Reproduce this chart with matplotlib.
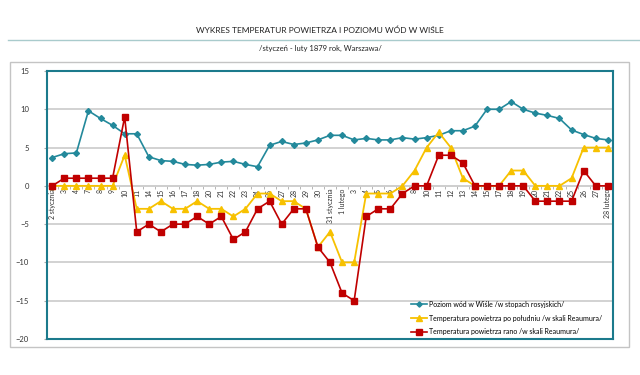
import matplotlib.pyplot as plt
from matplotlib.lines import Line2D
from matplotlib.patches import Rectangle

plt.rcParams['font.family'] = ['Lato', 'DejaVu Sans']

# dni pomiarów (styczeń - luty 1879)
days = ['2 stycznia', '3', '4', '7', '8', '9', '10', '11', '14', '15', '16', '17',
        '18', '20', '21', '22', '23', '24', '25', '27', '28', '29', '30',
        '31 stycznia', '1 lutego', '3', '4', '5', '6', '7', '8', '10', '11', '12',
        '13', '14', '15', '17', '18', '19', '20', '21', '22', '25', '26', '27',
        '28 lutego']

# poziom wód w Wiśle /w stopach rosyjskich/
poziom = [3.7, 4.2, 4.3, 9.8, 8.8, 7.9, 6.8, 6.8, 3.8, 3.3, 3.2, 2.8,
          2.7, 2.8, 3.1, 3.2, 2.8, 2.5, 5.3, 5.8, 5.4, 5.6, 6.0,
          6.6, 6.6, 6.0, 6.2, 6.0, 6.0, 6.3, 6.1, 6.3, 6.6, 7.2,
          7.2, 7.8, 10.0, 10.0, 11.0, 10.0, 9.5, 9.2, 8.8, 7.3, 6.7, 6.2,
          6.0]

# temperatura po południu /w skali Reaumura/
temp_poludnie = [0, 0, 0, 0, 0, 0, 4, -3, -3, -2, -3, -3,
                 -2, -3, -3, -4, -3, -1, -1, -2, -2, -3, -8,
                 -6, -10, -10, -1, -1, -1, 0, 2, 5, 7, 5,
                 1, 0, 0, 0, 2, 2, 0, 0, 0, 1, 5, 5,
                 5]

# temperatura rano /w skali Reaumura/
temp_rano = [0, 1, 1, 1, 1, 1, 9, -6, -5, -6, -5, -5,
             -4, -5, -4, -7, -6, -3, -2, -5, -3, -3, -8,
             -10, -14, -15, -4, -3, -3, -1, 0, 0, 4, 4,
             3, 0, 0, 0, 0, 0, -2, -2, -2, -2, 2, 0,
             0]

labels = ['Poziom wód w Wiśle /w stopach rosyjskich/',
          'Temperatura powietrza po południu /w skali Reaumura/',
          'Temperatura powietrza rano /w skali Reaumura/']

ymin, ymax = -20, 15
teal = '#23899b'
frame_teal = '#1b7a8c'
yellow = '#f7c100'
red = '#c00000'
grid_c = '#cfcfcf'

fig = plt.figure(figsize=(6.4, 3.75), dpi=100)

# tytuł
fig.text(0.5, 1 - 30 / 375, 'WYKRES TEMPERATUR POWIETRZA I POZIOMU WÓD W WIŚLE',
         ha='center', va='center', fontsize=6, color='#222222')
fig.text(0.5, 1 - 48.5 / 375, '/styczeń - luty 1879 rok, Warszawa/',
         ha='center', va='center', fontsize=5.5, color='#222222')
fig.add_artist(Line2D([8 / 640, 1.0], [1 - 39.5 / 375] * 2, transform=fig.transFigure,
                      color='#a9cbcc', lw=1))
fig.add_artist(Rectangle((10 / 640, 1 - 347 / 375), 619 / 640, 285 / 375,
                         transform=fig.transFigure, fill=False, ec='#c4c4c4', lw=1))

ax = fig.add_axes([47 / 640, 1 - 339 / 375, 566 / 640, 268 / 375])

x = list(range(len(days)))
ax.plot(x, poziom, color=teal, marker='D', markersize=3, lw=1.2, label=labels[0], zorder=3)
ax.plot(x, temp_poludnie, color=yellow, marker='^', markersize=4.5, lw=1.3, label=labels[1], zorder=3)
ax.plot(x, temp_rano, color=red, marker='s', markersize=5, lw=1.2, label=labels[2], zorder=3)

ax.set_xlim(-0.43, len(days) - 1 + 0.43)
ax.set_ylim(ymin, ymax)
ax.set_yticks(range(ymin, ymax + 1, 5))
ax.set_xticks([])
ax.grid(axis='y', color=grid_c, lw=1.3)
ax.set_axisbelow(True)
for s in ax.spines.values():
    s.set_color(frame_teal)
    s.set_linewidth(1.5)
ax.tick_params(axis='y', length=2, color='#aaaaaa', pad=11, labelsize=5.5,
               labelcolor='#333333')

# oś kategorii na poziomie zera
sec = ax.secondary_xaxis((0 - ymin) / (ymax - ymin))
sec.set_zorder(1)
sec.xaxis.set_ticks_position('bottom')
sec.set_xticks(x, labels=days, rotation=90, va='top')
sec.set_xticks([i + 0.5 for i in x[:-1]], minor=True)
sec.tick_params(which='major', length=0, pad=2, labelsize=5, labelcolor='#333333')
sec.tick_params(which='minor', length=2.5, color='#aaaaaa')
for s in sec.spines.values():
    s.set_color(grid_c)
    s.set_linewidth(1.3)

ax.legend(loc='lower left', bbox_to_anchor=(0.635, -0.005), frameon=False, fontsize=5,
          handlelength=2.3, handletextpad=0.2, labelspacing=1.0, borderaxespad=0.3,
          markerscale=0.9)

fig.savefig('out.png', dpi=100)
